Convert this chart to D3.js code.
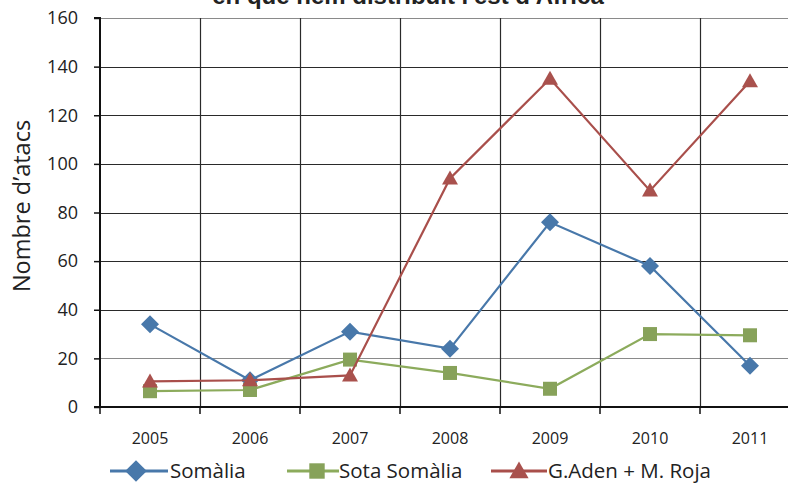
<!DOCTYPE html>
<html><head><meta charset="utf-8">
<script src="https://cdn.jsdelivr.net/npm/d3@7"></script>
<style>body{margin:0;background:#fff;}svg{display:block;}</style>
</head><body>
<svg id="c" width="788" height="484"></svg>
<script>
const title = "en què hem distribuït l'est d'Àfrica";
const yTitle = "Nombre d’atacs";
const years = ["2005","2006","2007","2008","2009","2010","2011"];
const somalia = [34, 11, 31, 24, 76, 58, 17];
const sotaSomalia = [6.5, 7, 19.5, 14, 7.5, 30, 29.5];
const gAden = [10.5, 11, 13, 94, 135, 89, 134];
const yTicks = [0,20,40,60,80,100,120,140,160];
const seriesNames = ["Somàlia","Sota Somàlia","G.Aden + M. Roja"];

const svg = d3.select("#c");
const font = "'Open Sans', 'Liberation Sans', sans-serif";
const x = d3.scaleBand().domain(years).range([100, 800]).padding(0);
const y = d3.scaleLinear().domain([0,160]).range([407, 18]);

// title (clipped at top, as in the reference)
svg.append("text").attr("x", 408).attr("y", 4).attr("text-anchor","middle")
  .attr("font-family","'Liberation Sans', Arial, sans-serif").attr("font-weight","bold")
  .attr("font-size", 24).attr("fill","#222").text(title);

// horizontal gridlines
svg.append("g").selectAll("line").data(yTicks.filter(d=>d>0)).join("line")
  .attr("x1",100).attr("x2",788).attr("y1",d=>Math.round(y(d))+0.5).attr("y2",d=>Math.round(y(d))+0.5)
  .attr("stroke",d=> (d===20||d===160)?"#8a8a8a":"#2a2a2a").attr("stroke-width",1.2);
// vertical gridlines
svg.append("g").selectAll("line").data(years.slice(1)).join("line")
  .attr("x1",d=>x(d)+0.5).attr("x2",d=>x(d)+0.5).attr("y1",y(160)).attr("y2",y(0))
  .attr("stroke","#2a2a2a").attr("stroke-width",1.2);

// y axis
const yAxis = d3.axisLeft(y).tickValues(yTicks).tickSize(6).tickPadding(16);
const gy = svg.append("g").attr("transform","translate(100,0)").call(yAxis);
gy.select(".domain").attr("stroke","#111").attr("stroke-width",2).attr("d","M-6,"+y(160)+"H0V"+y(0)+"H-6");
gy.selectAll(".tick line").attr("stroke","#111").attr("stroke-width",1.5);
gy.selectAll("text").attr("font-family",font).attr("font-size",18).attr("fill","#222");

// x axis
const gx = svg.append("g").attr("transform","translate(0,"+y(0)+")");
gx.append("line").attr("x1",94).attr("x2",788).attr("y1",0).attr("y2",0).attr("stroke","#111").attr("stroke-width",2);
gx.selectAll(".xt").data(years.concat(["end"])).join("line").attr("class","xt")
  .attr("x1",(d,i)=>100+i*x.bandwidth()).attr("x2",(d,i)=>100+i*x.bandwidth())
  .attr("y1",0).attr("y2",7).attr("stroke","#111").attr("stroke-width",1.5);
gx.selectAll(".xl").data(years).join("text").attr("class","xl")
  .attr("x",d=>x(d)+x.bandwidth()/2).attr("y",37).attr("text-anchor","middle")
  .attr("font-family",font).attr("font-size",16).attr("fill","#222").text(d=>d);

// y title
svg.append("text").attr("transform","translate(30,206) rotate(-90)").attr("text-anchor","middle")
  .attr("font-family",font).attr("font-size",23.5).attr("fill","#222").text(yTitle);

const series = [
  {name: seriesNames[0], vals: somalia, line:"#4878AA", fill:"#4878AA", sym:"diamond"},
  {name: seriesNames[1], vals: sotaSomalia, line:"#8CAB5C", fill:"#87A25A", sym:"square"},
  {name: seriesNames[2], vals: gAden, line:"#A94F4B", fill:"#A9514D", sym:"triangle"}
];
function marker(g, s, cx, cy, k){
  k = k || 1;
  if(s.sym==="diamond"){
    const w=9*k, h=9*k;
    g.append("path").attr("d",`M${cx},${cy-h}L${cx+w},${cy}L${cx},${cy+h}L${cx-w},${cy}Z`).attr("fill",s.fill);
  } else if(s.sym==="square"){
    const a=7*k;
    g.append("rect").attr("x",cx-a).attr("y",cy-a).attr("width",2*a).attr("height",2*a).attr("fill",s.fill);
  } else {
    g.append("path").attr("d",`M${cx},${cy-8*k}L${cx+8*k},${cy+6*k}L${cx-8*k},${cy+6*k}Z`).attr("fill",s.fill);
  }
}
const line = d3.line().x((d,i)=>x(years[i])+x.bandwidth()/2).y(d=>y(d));
series.forEach(s=>{
  const g = svg.append("g");
  g.append("path").attr("d",line(s.vals)).attr("fill","none").attr("stroke",s.line).attr("stroke-width",2.2);
  s.vals.forEach((v,i)=>marker(g,s,x(years[i])+x.bandwidth()/2,y(v)));
});

// legend
const legLine = [[110,168],[287,339],[491,547]];
const legMark = [136, 317, 519];
const legText = [170, 339, 548];
series.forEach((s,i)=>{
  const g = svg.append("g");
  const ly = 471;
  g.append("line").attr("x1",legLine[i][0]).attr("x2",legLine[i][1]).attr("y1",ly).attr("y2",ly).attr("stroke",s.line).attr("stroke-width",2.8);
  marker(g,s,legMark[i],ly, s.sym==="square"?1.1:1.2);
  g.append("text").attr("x",legText[i]).attr("y",478).attr("font-family",font).attr("font-size",20.5).attr("fill","#222").text(s.name);
});
</script>
</body></html>
